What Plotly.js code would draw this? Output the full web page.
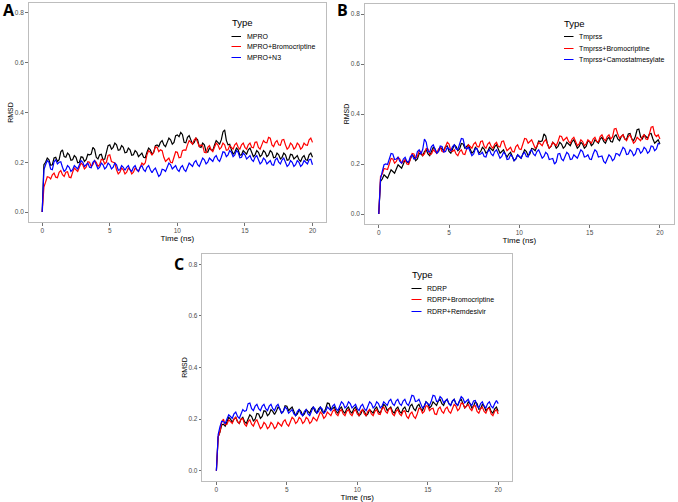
<!DOCTYPE html>
<html>
<head>
<meta charset="utf-8">
<script src="https://cdn.plot.ly/plotly-3.0.1.min.js"></script>
<style>
  body { margin: 0; background: #fff; }
  #chart { width: 678px; height: 502px; }
</style>
</head>
<body>
<div id="chart"></div>
<script>
// every series is sampled on the same grid: 0 ns to 20 ns, one value every 0.125 ns
const timeStart = 0;
const timeStep = 0.125;

// panel A
const mpro = [0, 0.19,
  0.2, 0.217, 0.21, 0.188, 0.19, 0.217, 0.22, 0.203,
  0.21, 0.242, 0.25, 0.223, 0.22, 0.237, 0.23, 0.208,
  0.21, 0.227, 0.22, 0.198, 0.2, 0.222, 0.22, 0.203,
  0.21, 0.232, 0.23, 0.233, 0.26, 0.252, 0.22, 0.213,
  0.23, 0.232, 0.21, 0.213, 0.24, 0.267, 0.27, 0.253,
  0.26, 0.277, 0.27, 0.248, 0.25, 0.267, 0.26, 0.238,
  0.24, 0.257, 0.25, 0.228, 0.23, 0.247, 0.24, 0.223,
  0.23, 0.237, 0.22, 0.218, 0.24, 0.257, 0.25, 0.233,
  0.24, 0.267, 0.27, 0.263, 0.28, 0.287, 0.27, 0.263,
  0.28, 0.297, 0.29, 0.273, 0.28, 0.307, 0.31, 0.303,
  0.32, 0.312, 0.28, 0.278, 0.3, 0.307, 0.29, 0.273,
  0.28, 0.297, 0.29, 0.263, 0.26, 0.277, 0.27, 0.243,
  0.24, 0.257, 0.25, 0.248, 0.27, 0.287, 0.28, 0.273,
  0.29, 0.322, 0.33, 0.288, 0.27, 0.272, 0.25, 0.233,
  0.24, 0.257, 0.25, 0.228, 0.23, 0.247, 0.24, 0.233,
  0.25, 0.257, 0.24, 0.223, 0.23, 0.247, 0.24, 0.223,
  0.23, 0.247, 0.24, 0.223, 0.23, 0.247, 0.24, 0.218,
  0.22, 0.237, 0.23, 0.213, 0.22, 0.237, 0.23, 0.208,
  0.21, 0.232, 0.23, 0.213, 0.22, 0.227, 0.21, 0.203,
  0.22, 0.227, 0.21, 0.208, 0.23, 0.237, 0.22];
const mproBromo = [0, 0.1,
  0.12, 0.142, 0.14, 0.133, 0.15, 0.157, 0.14, 0.138,
  0.16, 0.167, 0.15, 0.143, 0.16, 0.162, 0.14, 0.138,
  0.16, 0.177, 0.17, 0.163, 0.18, 0.197, 0.19, 0.173,
  0.18, 0.202, 0.2, 0.183, 0.19, 0.207, 0.2, 0.183,
  0.19, 0.212, 0.21, 0.193, 0.2, 0.227, 0.23, 0.203,
  0.2, 0.197, 0.17, 0.153, 0.16, 0.177, 0.17, 0.153,
  0.16, 0.177, 0.17, 0.153, 0.16, 0.177, 0.17, 0.163,
  0.18, 0.197, 0.19, 0.198, 0.23, 0.247, 0.24, 0.228,
  0.24, 0.262, 0.26, 0.243, 0.25, 0.247, 0.22, 0.203,
  0.21, 0.217, 0.2, 0.198, 0.22, 0.242, 0.24, 0.218,
  0.22, 0.247, 0.25, 0.248, 0.27, 0.287, 0.28, 0.273,
  0.29, 0.297, 0.28, 0.263, 0.27, 0.267, 0.24, 0.238,
  0.26, 0.267, 0.25, 0.243, 0.26, 0.277, 0.27, 0.253,
  0.26, 0.277, 0.27, 0.248, 0.25, 0.267, 0.26, 0.253,
  0.27, 0.277, 0.26, 0.253, 0.27, 0.277, 0.26, 0.253,
  0.27, 0.277, 0.26, 0.258, 0.28, 0.282, 0.26, 0.253,
  0.27, 0.287, 0.28, 0.278, 0.3, 0.297, 0.27, 0.263,
  0.28, 0.287, 0.27, 0.268, 0.29, 0.292, 0.27, 0.253,
  0.26, 0.277, 0.27, 0.253, 0.26, 0.277, 0.27, 0.253,
  0.26, 0.277, 0.27, 0.268, 0.29, 0.297, 0.28];
const mproN3 = [0, 0.17,
  0.19, 0.207, 0.2, 0.173, 0.17, 0.202, 0.21, 0.193,
  0.2, 0.202, 0.18, 0.163, 0.17, 0.187, 0.18, 0.163,
  0.17, 0.187, 0.18, 0.173, 0.19, 0.207, 0.2, 0.183,
  0.19, 0.197, 0.18, 0.178, 0.2, 0.207, 0.19, 0.173,
  0.18, 0.197, 0.19, 0.173, 0.18, 0.197, 0.19, 0.173,
  0.18, 0.197, 0.19, 0.168, 0.17, 0.187, 0.18, 0.168,
  0.18, 0.187, 0.17, 0.163, 0.18, 0.187, 0.17, 0.163,
  0.18, 0.187, 0.17, 0.163, 0.18, 0.187, 0.17, 0.158,
  0.17, 0.177, 0.16, 0.143, 0.15, 0.172, 0.17, 0.163,
  0.18, 0.197, 0.19, 0.173, 0.18, 0.187, 0.17, 0.163,
  0.18, 0.187, 0.17, 0.163, 0.18, 0.197, 0.19, 0.183,
  0.2, 0.207, 0.19, 0.183, 0.2, 0.217, 0.21, 0.193,
  0.2, 0.217, 0.21, 0.203, 0.22, 0.227, 0.21, 0.203,
  0.22, 0.242, 0.24, 0.223, 0.23, 0.247, 0.24, 0.223,
  0.23, 0.247, 0.24, 0.218, 0.22, 0.237, 0.23, 0.213,
  0.22, 0.227, 0.21, 0.203, 0.22, 0.227, 0.21, 0.193,
  0.2, 0.217, 0.21, 0.193, 0.2, 0.207, 0.19, 0.188,
  0.21, 0.217, 0.2, 0.193, 0.21, 0.217, 0.2, 0.183,
  0.19, 0.207, 0.2, 0.183, 0.19, 0.207, 0.2, 0.183,
  0.19, 0.207, 0.2, 0.193, 0.21, 0.212, 0.19];

// panel B
const tmprss = [0, 0.13,
  0.14, 0.157, 0.15, 0.143, 0.16, 0.177, 0.17, 0.163,
  0.18, 0.197, 0.19, 0.183, 0.2, 0.217, 0.21, 0.203,
  0.22, 0.237, 0.23, 0.213, 0.22, 0.242, 0.24, 0.233,
  0.25, 0.257, 0.24, 0.233, 0.25, 0.267, 0.26, 0.243,
  0.25, 0.267, 0.26, 0.253, 0.27, 0.272, 0.25, 0.243,
  0.26, 0.277, 0.27, 0.253, 0.26, 0.282, 0.28, 0.263,
  0.27, 0.277, 0.26, 0.243, 0.25, 0.267, 0.26, 0.243,
  0.25, 0.267, 0.26, 0.243, 0.25, 0.267, 0.26, 0.253,
  0.27, 0.277, 0.26, 0.243, 0.25, 0.257, 0.24, 0.228,
  0.24, 0.247, 0.23, 0.213, 0.22, 0.237, 0.23, 0.223,
  0.24, 0.257, 0.25, 0.233, 0.24, 0.262, 0.26, 0.253,
  0.27, 0.292, 0.29, 0.293, 0.32, 0.312, 0.28, 0.263,
  0.27, 0.287, 0.28, 0.263, 0.27, 0.287, 0.28, 0.263,
  0.27, 0.287, 0.28, 0.273, 0.29, 0.297, 0.28, 0.263,
  0.27, 0.287, 0.28, 0.263, 0.27, 0.292, 0.29, 0.273,
  0.28, 0.297, 0.29, 0.283, 0.3, 0.307, 0.29, 0.283,
  0.3, 0.307, 0.29, 0.288, 0.31, 0.317, 0.3, 0.293,
  0.31, 0.317, 0.3, 0.298, 0.32, 0.322, 0.3, 0.293,
  0.31, 0.337, 0.34, 0.308, 0.3, 0.317, 0.31, 0.303,
  0.32, 0.322, 0.3, 0.283, 0.29, 0.297, 0.28];
const tmprssBromo = [0, 0.15,
  0.16, 0.182, 0.18, 0.178, 0.2, 0.222, 0.22, 0.203,
  0.21, 0.227, 0.22, 0.203, 0.21, 0.217, 0.2, 0.198,
  0.22, 0.242, 0.24, 0.223, 0.23, 0.252, 0.25, 0.233,
  0.24, 0.262, 0.26, 0.238, 0.24, 0.257, 0.25, 0.243,
  0.26, 0.267, 0.25, 0.248, 0.27, 0.287, 0.28, 0.253,
  0.25, 0.257, 0.24, 0.233, 0.25, 0.257, 0.24, 0.238,
  0.26, 0.277, 0.27, 0.263, 0.28, 0.287, 0.27, 0.268,
  0.29, 0.292, 0.27, 0.263, 0.28, 0.287, 0.27, 0.263,
  0.28, 0.287, 0.27, 0.268, 0.29, 0.292, 0.27, 0.253,
  0.26, 0.267, 0.25, 0.248, 0.27, 0.277, 0.26, 0.258,
  0.28, 0.302, 0.3, 0.283, 0.29, 0.297, 0.28, 0.263,
  0.27, 0.287, 0.28, 0.273, 0.29, 0.297, 0.28, 0.263,
  0.27, 0.287, 0.28, 0.273, 0.29, 0.312, 0.31, 0.293,
  0.3, 0.307, 0.29, 0.283, 0.3, 0.307, 0.29, 0.273,
  0.28, 0.297, 0.29, 0.273, 0.28, 0.297, 0.29, 0.283,
  0.3, 0.307, 0.29, 0.288, 0.31, 0.317, 0.3, 0.293,
  0.31, 0.317, 0.3, 0.308, 0.34, 0.342, 0.32, 0.303,
  0.31, 0.317, 0.3, 0.293, 0.31, 0.317, 0.3, 0.283,
  0.29, 0.307, 0.3, 0.293, 0.31, 0.317, 0.3, 0.298,
  0.32, 0.347, 0.35, 0.318, 0.31, 0.317, 0.3];
const tmprssCamo = [0, 0.14,
  0.17, 0.197, 0.2, 0.198, 0.22, 0.242, 0.24, 0.218,
  0.22, 0.227, 0.21, 0.203, 0.22, 0.227, 0.21, 0.208,
  0.23, 0.237, 0.22, 0.223, 0.25, 0.257, 0.24, 0.258,
  0.3, 0.287, 0.25, 0.248, 0.27, 0.277, 0.26, 0.243,
  0.25, 0.272, 0.27, 0.248, 0.25, 0.267, 0.26, 0.253,
  0.27, 0.277, 0.26, 0.258, 0.28, 0.302, 0.3, 0.268,
  0.26, 0.267, 0.25, 0.233, 0.24, 0.262, 0.26, 0.238,
  0.24, 0.247, 0.23, 0.228, 0.25, 0.257, 0.24, 0.233,
  0.25, 0.257, 0.24, 0.223, 0.23, 0.247, 0.24, 0.218,
  0.22, 0.237, 0.23, 0.213, 0.22, 0.237, 0.23, 0.223,
  0.24, 0.247, 0.23, 0.228, 0.25, 0.257, 0.24, 0.233,
  0.25, 0.257, 0.24, 0.223, 0.23, 0.247, 0.24, 0.218,
  0.22, 0.222, 0.2, 0.208, 0.24, 0.242, 0.22, 0.213,
  0.23, 0.247, 0.24, 0.218, 0.22, 0.237, 0.23, 0.223,
  0.24, 0.257, 0.25, 0.228, 0.23, 0.237, 0.22, 0.218,
  0.24, 0.257, 0.25, 0.228, 0.23, 0.232, 0.21, 0.203,
  0.22, 0.237, 0.23, 0.213, 0.22, 0.242, 0.24, 0.233,
  0.25, 0.267, 0.26, 0.238, 0.24, 0.257, 0.25, 0.233,
  0.24, 0.262, 0.26, 0.243, 0.25, 0.267, 0.26, 0.243,
  0.25, 0.272, 0.27, 0.253, 0.26, 0.282, 0.28];

// panel C
const rdrp = [0, 0.13,
  0.15, 0.177, 0.18, 0.173, 0.19, 0.207, 0.2, 0.188,
  0.2, 0.207, 0.19, 0.183, 0.2, 0.207, 0.19, 0.183,
  0.2, 0.217, 0.21, 0.193, 0.2, 0.222, 0.22, 0.203,
  0.21, 0.232, 0.23, 0.213, 0.22, 0.237, 0.23, 0.218,
  0.23, 0.247, 0.24, 0.223, 0.23, 0.252, 0.25, 0.233,
  0.24, 0.247, 0.23, 0.213, 0.22, 0.237, 0.23, 0.213,
  0.22, 0.237, 0.23, 0.223, 0.24, 0.247, 0.23, 0.223,
  0.24, 0.247, 0.23, 0.223, 0.24, 0.262, 0.26, 0.238,
  0.24, 0.247, 0.23, 0.223, 0.24, 0.247, 0.23, 0.223,
  0.24, 0.247, 0.23, 0.223, 0.24, 0.247, 0.23, 0.213,
  0.22, 0.237, 0.23, 0.213, 0.22, 0.237, 0.23, 0.223,
  0.24, 0.247, 0.23, 0.223, 0.24, 0.257, 0.25, 0.233,
  0.24, 0.247, 0.23, 0.223, 0.24, 0.247, 0.23, 0.223,
  0.24, 0.247, 0.23, 0.228, 0.25, 0.257, 0.24, 0.233,
  0.25, 0.257, 0.24, 0.233, 0.25, 0.267, 0.26, 0.243,
  0.25, 0.267, 0.26, 0.253, 0.27, 0.277, 0.26, 0.253,
  0.27, 0.277, 0.26, 0.253, 0.27, 0.277, 0.26, 0.253,
  0.27, 0.277, 0.26, 0.243, 0.25, 0.267, 0.26, 0.243,
  0.25, 0.267, 0.26, 0.238, 0.24, 0.257, 0.25, 0.233,
  0.24, 0.247, 0.23, 0.223, 0.24, 0.247, 0.23];
const rdrpBromo = [0, 0.13,
  0.15, 0.187, 0.2, 0.178, 0.18, 0.197, 0.19, 0.183,
  0.2, 0.207, 0.19, 0.183, 0.2, 0.202, 0.18, 0.173,
  0.19, 0.197, 0.18, 0.173, 0.19, 0.197, 0.18, 0.163,
  0.17, 0.187, 0.18, 0.163, 0.17, 0.187, 0.18, 0.163,
  0.17, 0.187, 0.18, 0.173, 0.19, 0.197, 0.18, 0.173,
  0.19, 0.207, 0.2, 0.183, 0.19, 0.207, 0.2, 0.183,
  0.19, 0.207, 0.2, 0.183, 0.19, 0.207, 0.2, 0.193,
  0.21, 0.227, 0.22, 0.203, 0.21, 0.227, 0.22, 0.213,
  0.23, 0.237, 0.22, 0.213, 0.23, 0.237, 0.22, 0.213,
  0.23, 0.237, 0.22, 0.213, 0.23, 0.237, 0.22, 0.213,
  0.23, 0.237, 0.22, 0.213, 0.23, 0.237, 0.22, 0.213,
  0.23, 0.237, 0.22, 0.218, 0.24, 0.247, 0.23, 0.223,
  0.24, 0.242, 0.22, 0.213, 0.23, 0.237, 0.22, 0.213,
  0.23, 0.232, 0.21, 0.203, 0.22, 0.227, 0.21, 0.203,
  0.22, 0.242, 0.24, 0.223, 0.23, 0.252, 0.25, 0.233,
  0.24, 0.242, 0.22, 0.218, 0.24, 0.247, 0.23, 0.223,
  0.24, 0.247, 0.23, 0.223, 0.24, 0.257, 0.25, 0.233,
  0.24, 0.262, 0.26, 0.243, 0.25, 0.257, 0.24, 0.233,
  0.25, 0.252, 0.23, 0.223, 0.24, 0.247, 0.23, 0.223,
  0.24, 0.242, 0.22, 0.213, 0.23, 0.237, 0.22];
const rdrpRemde = [0, 0.14,
  0.17, 0.192, 0.19, 0.183, 0.2, 0.217, 0.21, 0.203,
  0.22, 0.227, 0.21, 0.203, 0.22, 0.237, 0.23, 0.233,
  0.26, 0.262, 0.24, 0.233, 0.25, 0.257, 0.24, 0.233,
  0.25, 0.257, 0.24, 0.233, 0.25, 0.257, 0.24, 0.233,
  0.25, 0.257, 0.24, 0.223, 0.23, 0.247, 0.24, 0.223,
  0.23, 0.237, 0.22, 0.213, 0.23, 0.237, 0.22, 0.213,
  0.23, 0.237, 0.22, 0.213, 0.23, 0.247, 0.24, 0.223,
  0.23, 0.247, 0.24, 0.223, 0.23, 0.247, 0.24, 0.233,
  0.25, 0.257, 0.24, 0.233, 0.25, 0.267, 0.26, 0.243,
  0.25, 0.267, 0.26, 0.243, 0.25, 0.257, 0.24, 0.233,
  0.25, 0.257, 0.24, 0.233, 0.25, 0.267, 0.26, 0.243,
  0.25, 0.267, 0.26, 0.243, 0.25, 0.267, 0.26, 0.253,
  0.27, 0.277, 0.26, 0.253, 0.27, 0.277, 0.26, 0.253,
  0.27, 0.277, 0.26, 0.253, 0.27, 0.292, 0.29, 0.268,
  0.27, 0.277, 0.26, 0.243, 0.25, 0.267, 0.26, 0.253,
  0.27, 0.292, 0.29, 0.268, 0.27, 0.287, 0.28, 0.263,
  0.27, 0.277, 0.26, 0.253, 0.27, 0.277, 0.26, 0.253,
  0.27, 0.287, 0.28, 0.263, 0.27, 0.277, 0.26, 0.253,
  0.27, 0.272, 0.25, 0.243, 0.26, 0.267, 0.25, 0.243,
  0.26, 0.267, 0.25, 0.243, 0.26, 0.272, 0.26];

const colors = ['#000000', '#ff0000', '#0000ff'];
const namesA = ['MPRO', 'MPRO+Bromocriptine', 'MPRO+N3'];
const namesB = ['Tmprss', 'Tmprss+Bromocriptine', 'Tmprss+Camostatmesylate'];
const namesC = ['RDRP', 'RDRP+Bromocriptine', 'RDRP+Remdesivir'];

const W = 678, H = 502;
const px = v => v / W;
const py = v => 1 - v / H;

const FONT = 'Liberation Sans, Arial, sans-serif';

const panels = [
  {series: [mpro, mproBromo, mproN3], names: namesA, xa: 'x', ya: 'y',
   box: [28.7, 326, 3, 222], legend: {x: 230, yt: 23, rows: [36.5, 46.5, 57.5], lx0: 231.5, lx1: 241, tx: 245},
   label: {text: 'A', x: 1, y: 10}},
  {series: [tmprss, tmprssBromo, tmprssCamo], names: namesB, xa: 'x2', ya: 'y2',
   box: [364.7, 674, 4, 224], legend: {x: 562, yt: 24, rows: [36.5, 48.5, 59.5], lx0: 564, lx1: 573.5, tx: 577},
   label: {text: 'B', x: 335, y: 10}},
  {series: [rdrp, rdrpBromo, rdrpRemde], names: namesC, xa: 'x3', ya: 'y3',
   box: [202.3, 512.3, 254, 481], legend: {x: 410, yt: 274, rows: [288.5, 299.5, 311.5], lx0: 411.5, lx1: 421.5, tx: 425},
   label: {text: 'C', x: 172, y: 264}}
];

const traces = [];
const annotations = [];
const shapes = [];
const layout = {
  width: W, height: H,
  margin: {l: 0, r: 0, t: 0, b: 0},
  paper_bgcolor: '#ffffff',
  plot_bgcolor: '#ffffff',
  showlegend: false,
  font: {family: FONT, color: '#000'},
  annotations: annotations,
  shapes: shapes
};

panels.forEach((p, i) => {
  p.series.forEach((ys, j) => {
    traces.push({
      x0: timeStart, dx: timeStep, y: ys, type: 'scatter', mode: 'lines',
      name: p.names[j], xaxis: p.xa, yaxis: p.ya,
      line: {color: colors[j], width: 1.2}
    });
  });
  const suffix = i === 0 ? '' : String(i + 1);
  const [l, r, t, b] = p.box;
  layout['xaxis' + suffix] = {
    domain: [px(l), px(r)], anchor: p.ya, range: [-1, 21],
    tickvals: [0, 5, 10, 15, 20], showgrid: false, zeroline: false,
    showline: true, mirror: true, linecolor: '#bdbdbd', linewidth: 1,
    ticks: 'outside', ticklen: 2.5, tickcolor: '#4d4d4d', tickwidth: 0.8,
    tickfont: {size: 6.5, color: '#4d4d4d', family: FONT},
    title: {text: 'Time (ns)', font: {size: 8, color: '#000', family: FONT}, standoff: 0}
  };
  layout['yaxis' + suffix] = {
    domain: [py(b), py(t)], anchor: p.xa, range: [-0.04, 0.84],
    tickvals: [0, 0.2, 0.4, 0.6, 0.8], tickformat: '.1f', showgrid: false, zeroline: false,
    showline: true, mirror: true, linecolor: '#bdbdbd', linewidth: 1,
    ticks: 'outside', ticklen: 2.5, tickcolor: '#4d4d4d', tickwidth: 0.8,
    tickfont: {size: 6.5, color: '#4d4d4d', family: FONT},
    title: {text: 'RMSD', font: {size: 7, color: '#000', family: FONT}, standoff: 0}
  };

  // legend drawn by hand so the rows sit as close as in the original
  const lg = p.legend;
  annotations.push({
    xref: 'paper', yref: 'paper', x: px(lg.x), y: py(lg.yt),
    xanchor: 'left', yanchor: 'middle', showarrow: false,
    text: 'Type', font: {size: 9.5, color: '#000', family: FONT}
  });
  p.names.forEach((nm, j) => {
    shapes.push({
      type: 'line', xref: 'paper', yref: 'paper',
      x0: px(lg.lx0), x1: px(lg.lx1), y0: py(lg.rows[j]), y1: py(lg.rows[j]),
      line: {color: colors[j], width: 1}
    });
    annotations.push({
      xref: 'paper', yref: 'paper', x: px(lg.tx), y: py(lg.rows[j]),
      xanchor: 'left', yanchor: 'middle', showarrow: false,
      text: nm, font: {size: 7, color: '#000', family: FONT}
    });
  });

  annotations.push({
    xref: 'paper', yref: 'paper', x: px(p.label.x), y: py(p.label.y),
    xanchor: 'left', yanchor: 'middle', showarrow: false,
    text: '<b>' + p.label.text + '</b>',
    font: {size: 16, color: '#000', family: 'Open Sans, sans-serif'}
  });
});

Plotly.newPlot('chart', traces, layout, {staticPlot: true});
</script>
</body>
</html>
